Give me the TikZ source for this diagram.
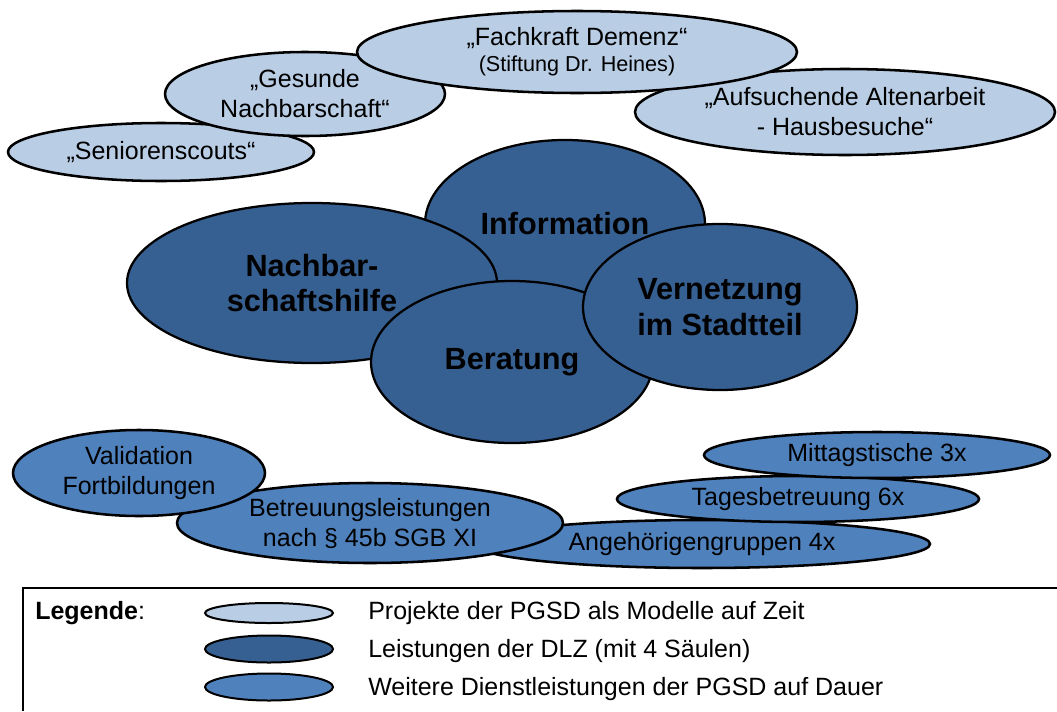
\documentclass[tikz,border=0pt]{standalone}
\usepackage{fontspec}
\setmainfont{Liberation Sans}
\usepackage{tikz}
\usetikzlibrary{shapes.geometric}

\definecolor{projekt}{HTML}{B9CDE5}
\definecolor{saeule}{HTML}{376092}
\definecolor{dienst}{HTML}{4F81BD}

\tikzset{
  bubble/.style={ellipse, draw=black, line width=1.9pt, inner sep=0pt, align=center, text=black},
  esize/.style 2 args={minimum width=#1*0.75pt, minimum height=#2*0.75pt},
  normtxt/.style={font=\fontsize{18.75}{22.5}\selectfont},
  boldtxt/.style={font=\fontsize{23}{26.5}\selectfont\bfseries},
}

\begin{document}
\begin{tikzpicture}[x=0.75pt,y=0.75pt,yscale=-1,xscale=1]
\useasboundingbox (0,0) rectangle (1057,711);

%Shape: Ellipse - Projekte
\node [bubble, normtxt, fill=projekt, esize={306}{58}] (scouts) at (161,152) {„Seniorenscouts“};
%Shape: Ellipse
\node [bubble, normtxt, fill=projekt, esize={280}{84}] (gesunde) at (305,94) {„Gesunde\\Nachbarschaft“};
%Shape: Ellipse
\node [bubble, normtxt, fill=projekt, esize={420}{86}] (aufsuchende) at (845,112) {„Aufsuchende Altenarbeit\\- Hausbesuche“};
%Shape: Ellipse
\node [bubble, normtxt, fill=projekt, esize={440}{82}] (fachkraft) at (577,52) {„Fachkraft Demenz“\\[-3pt]{\fontsize{16.2}{19}\selectfont (Stiftung Dr. Heines)}};

%Shape: Ellipse - Saeulen
\node [bubble, boldtxt, fill=saeule, line width=1.7pt, esize={280}{168}] (information) at (565,224) {Information};
%Shape: Ellipse
\node [bubble, boldtxt, fill=saeule, line width=1.7pt, esize={370}{160}] (nachbar) at (312,283) {Nachbar-\\schaftshilfe};
%Shape: Ellipse
\node [bubble, boldtxt, fill=saeule, line width=1.7pt, esize={282}{162}] (beratung) at (512,362) {Beratung};
%Shape: Ellipse
\node [bubble, boldtxt, fill=saeule, line width=1.7pt, esize={274}{166}] (vernetzung) at (720,307) {Vernetzung\\im Stadtteil};

%Shape: Ellipse - Dienstleistungen
\node [bubble, normtxt, fill=dienst, esize={456}{48}] (angehoerige) at (702,544) {Angehörigengruppen 4x};
%Shape: Ellipse
\node [bubble, normtxt, fill=dienst, esize={362}{46}] (tages) at (798,499) {Tagesbetreuung 6x};
%Shape: Ellipse
\node [bubble, normtxt, fill=dienst, esize={346}{46}] (mittag) at (877,455) {Mittagstische 3x};
%Shape: Ellipse
\node [bubble, normtxt, fill=dienst, esize={386}{80}] (betreuung) at (370,523) {Betreuungsleistungen\\nach § 45b SGB XI};
%Shape: Ellipse
\node [bubble, normtxt, fill=dienst, esize={252}{86}] (validation) at (139,473) {Validation\\Fortbildungen};

%Legend frame
\draw [line width=1.5pt] (23,711) -- (23,588) -- (1057,588) ;

% Text Node
\node [normtxt, anchor=west, inner sep=0pt] (legende) at (35,613) {\textbf{Legende}:};
%Shape: Ellipse
\node [bubble, fill=projekt, line width=1.5pt, esize={128}{20}] (keyprojekt) at (269,613) {};
\node [bubble, fill=saeule, line width=1.5pt, esize={128}{27}] (keysaeule) at (269,649) {};
\node [bubble, fill=dienst, line width=1.5pt, esize={128}{27}] (keydienst) at (269,687) {};
% Text Node
\node [normtxt, anchor=west, inner sep=0pt] (txtprojekt) at (368,613) {Projekte der PGSD als Modelle auf Zeit};
% Text Node
\node [normtxt, anchor=west, inner sep=0pt] (txtsaeule) at (368,651) {Leistungen der DLZ (mit 4 Säulen)};
% Text Node
\node [normtxt, anchor=west, inner sep=0pt] (txtdienst) at (368,689) {Weitere Dienstleistungen der PGSD auf Dauer};

\end{tikzpicture}
\end{document}
